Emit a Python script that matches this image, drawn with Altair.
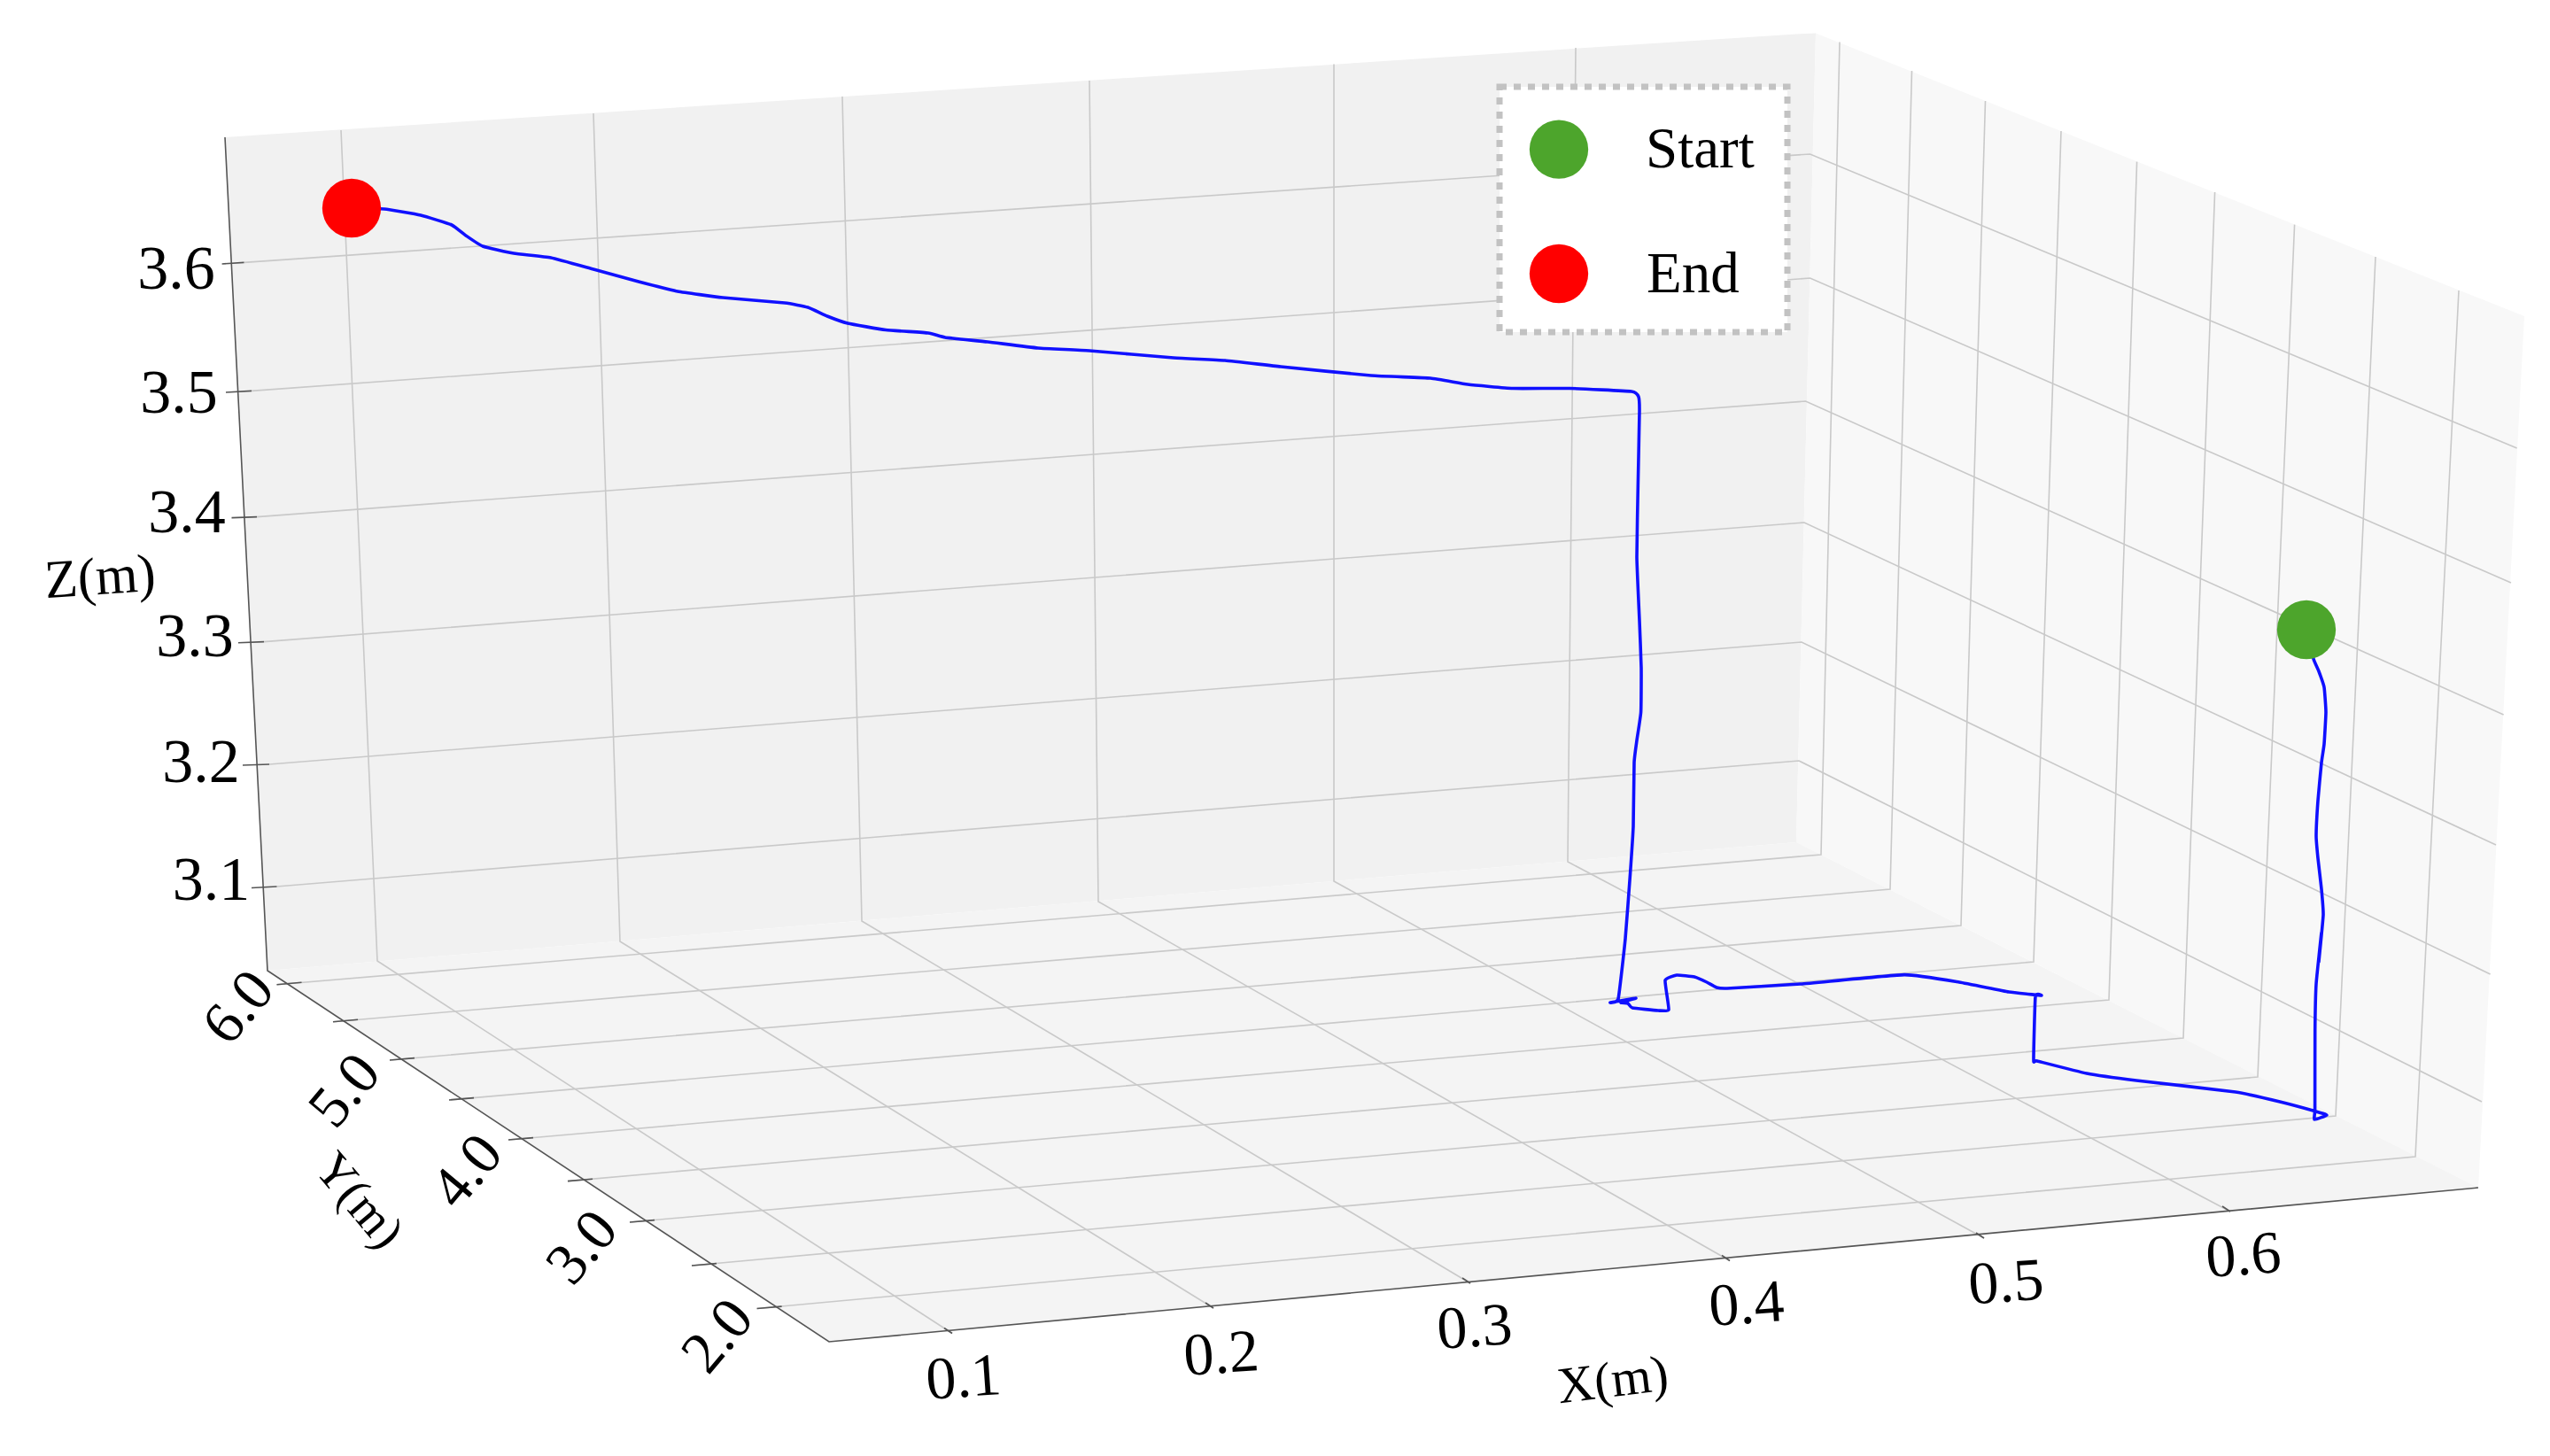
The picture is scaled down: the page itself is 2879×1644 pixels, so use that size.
import altair as alt
import pandas as pd

WALL_BACK = dict(x=[254, 302, 2028, 2050], top=[155, 151.8, 38.4, 37.5], bottom=[155, 1096, 951, 37.5])
WALL_SIDE = dict(x=[2028, 2050, 2798, 2850], top=[951, 37.5, 336.3, 357], bottom=[951, 962, 1341, 357])
FLOOR = dict(x=[302, 936, 2028, 2798], top=[1096, 1042.7, 951, 1341], bottom=[1096, 1515, 1413, 1341])

X_TICK_LABELS = ["0.1", "0.2", "0.3", "0.4", "0.5", "0.6"]
X_TICK_END_X = [1075, 1370, 1660, 1953, 2240, 2518]
X_TICK_END_Y = [1505.5, 1477, 1449, 1423.5, 1398, 1368]
X_BEND_X = [426, 700, 973, 1240, 1506, 1770]
X_BEND_Y = [1085, 1063, 1040, 1018, 995, 973]
X_TOP_X = [385, 670, 951, 1230, 1506, 1779]
X_TOP_Y = [147, 128, 109, 91, 72.5, 54]
X_LABEL_X = [1088, 1379, 1665, 1972, 2265, 2533]
X_LABEL_Y = [1557, 1530, 1500, 1474, 1449.5, 1419]

Y_TICK_OUT_X = [312.5, 376, 440, 507, 574, 641, 711, 781, 854.6]
Y_TICK_OUT_Y = [1111.7, 1153.7, 1197, 1242, 1287, 1333.6, 1380, 1429, 1477.5]
Y_BEND_X = [2056, 2134, 2214, 2296, 2381, 2465, 2549, 2637, 2727]
Y_BEND_Y = [965, 1004, 1045, 1086, 1129, 1172, 1216, 1260, 1306]
Y_TOP_X = [2077, 2158.5, 2241.5, 2327, 2412.6, 2500.6, 2590.6, 2682, 2776]
Y_TOP_Y = [47.5, 80, 114, 148, 182.6, 217, 253.6, 290, 328]
Y_LABELS = ["6.0", "5.0", "4.0", "3.0", "2.0"]
Y_LABEL_X = [270, 390, 528, 658, 811]
Y_LABEL_Y = [1138, 1232, 1323, 1409, 1509]

Z_LABELS = ["3.6", "3.5", "3.4", "3.3", "3.2", "3.1"]
Z_TICK_OUT_X = [250.6, 255, 261.5, 269, 274, 284]
Z_TICK_OUT_Y = [298, 443, 584.6, 725.7, 864, 1002.5]
Z_TICK_IN_X = [275.5, 284, 290, 298, 304, 312.5]
Z_TICK_IN_Y = [296.4, 441.4, 583.6, 724.6, 863, 1001]
Z_BEND_X = [2043.6, 2043.6, 2038.6, 2037, 2034, 2031]
Z_BEND_Y = [174, 314, 453, 590, 725, 859]
Z_END_X = [2841.6, 2835, 2826.6, 2818, 2811.6, 2802]
Z_END_Y = [506, 658, 807, 954, 1100, 1244]
Z_LABEL_X = [199, 202, 211, 220, 227, 238.5]
Z_LABEL_Y = [305, 445, 580, 720, 862, 995]

AXIS_X = [254, 302, 936, 2798]
AXIS_Y = [155, 1096, 1515, 1341]

TRAJ_X = [2604, 2612, 2618, 2624, 2626, 2624, 2621, 2617, 2615, 2617, 2621, 2623, 2618,
          2621, 2615, 2613.7, 2613.6, 2613, 2627, 2615, 2574, 2524, 2412, 2356, 2300, 2296,
          2298, 2304.6, 2268, 2212, 2150, 2033, 1950, 1938, 1927, 1913, 1893, 1880, 1884,
          1872, 1843, 1838, 1830, 1847, 1818, 1827, 1835, 1840.6, 1844, 1845, 1848, 1852.6,
          1853, 1851, 1848, 1849.5, 1851, 1850, 1842, 1772, 1708, 1657, 1615, 1548, 1446,
          1383, 1325, 1230, 1172, 1115, 1067, 1048, 1000, 957, 934, 912, 886, 816, 765, 721,
          670, 622, 580, 545, 526, 510, 475, 434, 397]
TRAJ_Y = [711, 744, 758, 776, 804, 840, 861, 904, 944, 969, 1004, 1033, 1086,
          1053, 1111, 1164, 1252.6, 1264, 1259, 1255, 1244, 1233, 1220, 1212, 1198, 1197,
          1125, 1124, 1120, 1109, 1100.6, 1111, 1116, 1115, 1109, 1103, 1101, 1107, 1140,
          1141, 1138, 1133, 1132, 1127, 1132, 1128, 1060, 986, 933, 861, 836, 804,
          754, 701, 629, 540, 464, 448, 442, 438.5, 438.5, 434, 427, 424, 414,
          407, 404, 396, 393, 386, 381, 376, 372.5, 365, 357, 347, 342, 336, 329, 318,
          304, 291, 286, 278, 266, 254, 243, 236, 235]

START_XY = (2604, 711)
END_XY = (397, 235)
LEGEND_BOX = dict(x=1693, x2=2018, y=98, y2=375)
LEGEND_NAMES = ["Start", "End"]
LEGEND_DOT_X = [1760, 1760]
LEGEND_DOT_Y = [168.7, 309]
LEGEND_TEXT_X = [1858, 1859]
LEGEND_TEXT_Y = [169, 310]
COLORS = {"Start": "#4da52c", "End": "#ff0000"}

# ---- scales: chart coordinates follow the picture's pixels ----
W, H = 2855, 1620
SX = alt.Scale(domain=[8, 8 + W], nice=False, zero=False)
SY = alt.Scale(domain=[8 + H, 8], nice=False, zero=False)
ex = alt.X("px:Q", scale=SX, axis=None)
ey = alt.Y("py:Q", scale=SY, axis=None)


def pane(p, color):
    d = pd.DataFrame({"px": p["x"], "py": p["top"], "py2": p["bottom"]})
    return alt.Chart(d).mark_area(color=color, opacity=1, line=False, interpolate="linear").encode(
        x=ex, y=ey, y2="py2:Q")


def paths(groups, color, width, **kw):
    rows = []
    for gid, (xs, ys) in enumerate(groups):
        for i, (a, b) in enumerate(zip(xs, ys)):
            rows.append({"px": a, "py": b, "g": gid, "i": i})
    return alt.Chart(pd.DataFrame(rows)).mark_line(
        color=color, strokeWidth=width, **kw
    ).encode(x=ex, y=ey, detail="g:N", order="i:Q")


def texts(labels, xs, ys, size, angle=0, **kw):
    d = pd.DataFrame({"px": xs, "py": ys, "t": labels})
    return alt.Chart(d).mark_text(
        font="Liberation Serif", fontSize=size, angle=angle, align="center",
        baseline="middle", color="black", **kw
    ).encode(x=ex, y=ey, text="t:N")


def dots(xs, ys, color):
    d = pd.DataFrame({"px": xs, "py": ys})
    return alt.Chart(d).mark_point(
        shape="circle", filled=True, size=4400, color=color, opacity=1, strokeWidth=0
    ).encode(x=ex, y=ey)


grid = []
for i in range(6):
    grid.append(([X_TICK_END_X[i], X_BEND_X[i], X_TOP_X[i]], [X_TICK_END_Y[i], X_BEND_Y[i], X_TOP_Y[i]]))
for i in range(9):
    grid.append(([Y_TICK_OUT_X[i], Y_BEND_X[i], Y_TOP_X[i]], [Y_TICK_OUT_Y[i], Y_BEND_Y[i], Y_TOP_Y[i]]))
for i in range(6):
    grid.append(([Z_TICK_IN_X[i], Z_BEND_X[i], Z_END_X[i]], [Z_TICK_IN_Y[i], Z_BEND_Y[i], Z_END_Y[i]]))

ticks = []
for i in range(6):
    ticks.append(([X_TICK_END_X[i], X_TICK_END_X[i] - 9], [X_TICK_END_Y[i], X_TICK_END_Y[i] - 6]))
for i in range(9):
    ticks.append(([Y_TICK_OUT_X[i], Y_TICK_OUT_X[i] + 28], [Y_TICK_OUT_Y[i], Y_TICK_OUT_Y[i] - 2.4]))
for i in range(6):
    ticks.append(([Z_TICK_OUT_X[i], Z_TICK_IN_X[i]], [Z_TICK_OUT_Y[i], Z_TICK_IN_Y[i]]))

legend_box = alt.Chart(pd.DataFrame([{"px": LEGEND_BOX["x"], "px2": LEGEND_BOX["x2"],
                                      "py": LEGEND_BOX["y"], "py2": LEGEND_BOX["y2"]}])).mark_rect(
    fill="white", stroke="#c2c2c2", strokeWidth=7, strokeDash=[8, 8], opacity=1
).encode(x=ex, x2="px2:Q", y=ey, y2="py2:Q")

chart = alt.layer(
    pane(WALL_BACK, "#f1f1f1"),
    pane(WALL_SIDE, "#f8f8f8"),
    pane(FLOOR, "#f4f4f4"),
    paths(grid, "#c9c9c9", 1.6, interpolate="linear"),
    paths(ticks, "#555555", 1.6, interpolate="linear"),
    paths([(AXIS_X, AXIS_Y)], "#555555", 1.6, interpolate="linear"),
    paths([(TRAJ_X, TRAJ_Y)], "#1010ff", 3.6, interpolate="cardinal", tension=0.6,
          strokeJoin="round", strokeCap="round"),
    dots([START_XY[0]], [START_XY[1]], COLORS["Start"]),
    dots([END_XY[0]], [END_XY[1]], COLORS["End"]),
    legend_box,
    dots(LEGEND_DOT_X[:1], LEGEND_DOT_Y[:1], COLORS["Start"]),
    dots(LEGEND_DOT_X[1:], LEGEND_DOT_Y[1:], COLORS["End"]),
    alt.Chart(pd.DataFrame({"px": LEGEND_TEXT_X, "py": LEGEND_TEXT_Y, "t": LEGEND_NAMES})).mark_text(
        font="Liberation Serif", fontSize=65, align="left", baseline="middle", color="black"
    ).encode(x=ex, y=ey, text="t:N"),
    texts(X_TICK_LABELS, X_LABEL_X, X_LABEL_Y, 68, angle=356),
    texts(Z_LABELS, Z_LABEL_X, Z_LABEL_Y, 70),
    texts(Y_LABELS, Y_LABEL_X, Y_LABEL_Y, 67, angle=310),
    texts(["X(m)"], [1821], [1560], 58, angle=353),
    texts(["Y(m)"], [405], [1356], 56, angle=50),
    texts(["Z(m)"], [113], [653], 61, angle=356),
).resolve_scale(x="shared", y="shared").properties(
    width=W, height=H, padding=0, background="white"
).configure_view(stroke=None)

chart.save("out.html", embed_options={"renderer": "svg", "actions": False})
